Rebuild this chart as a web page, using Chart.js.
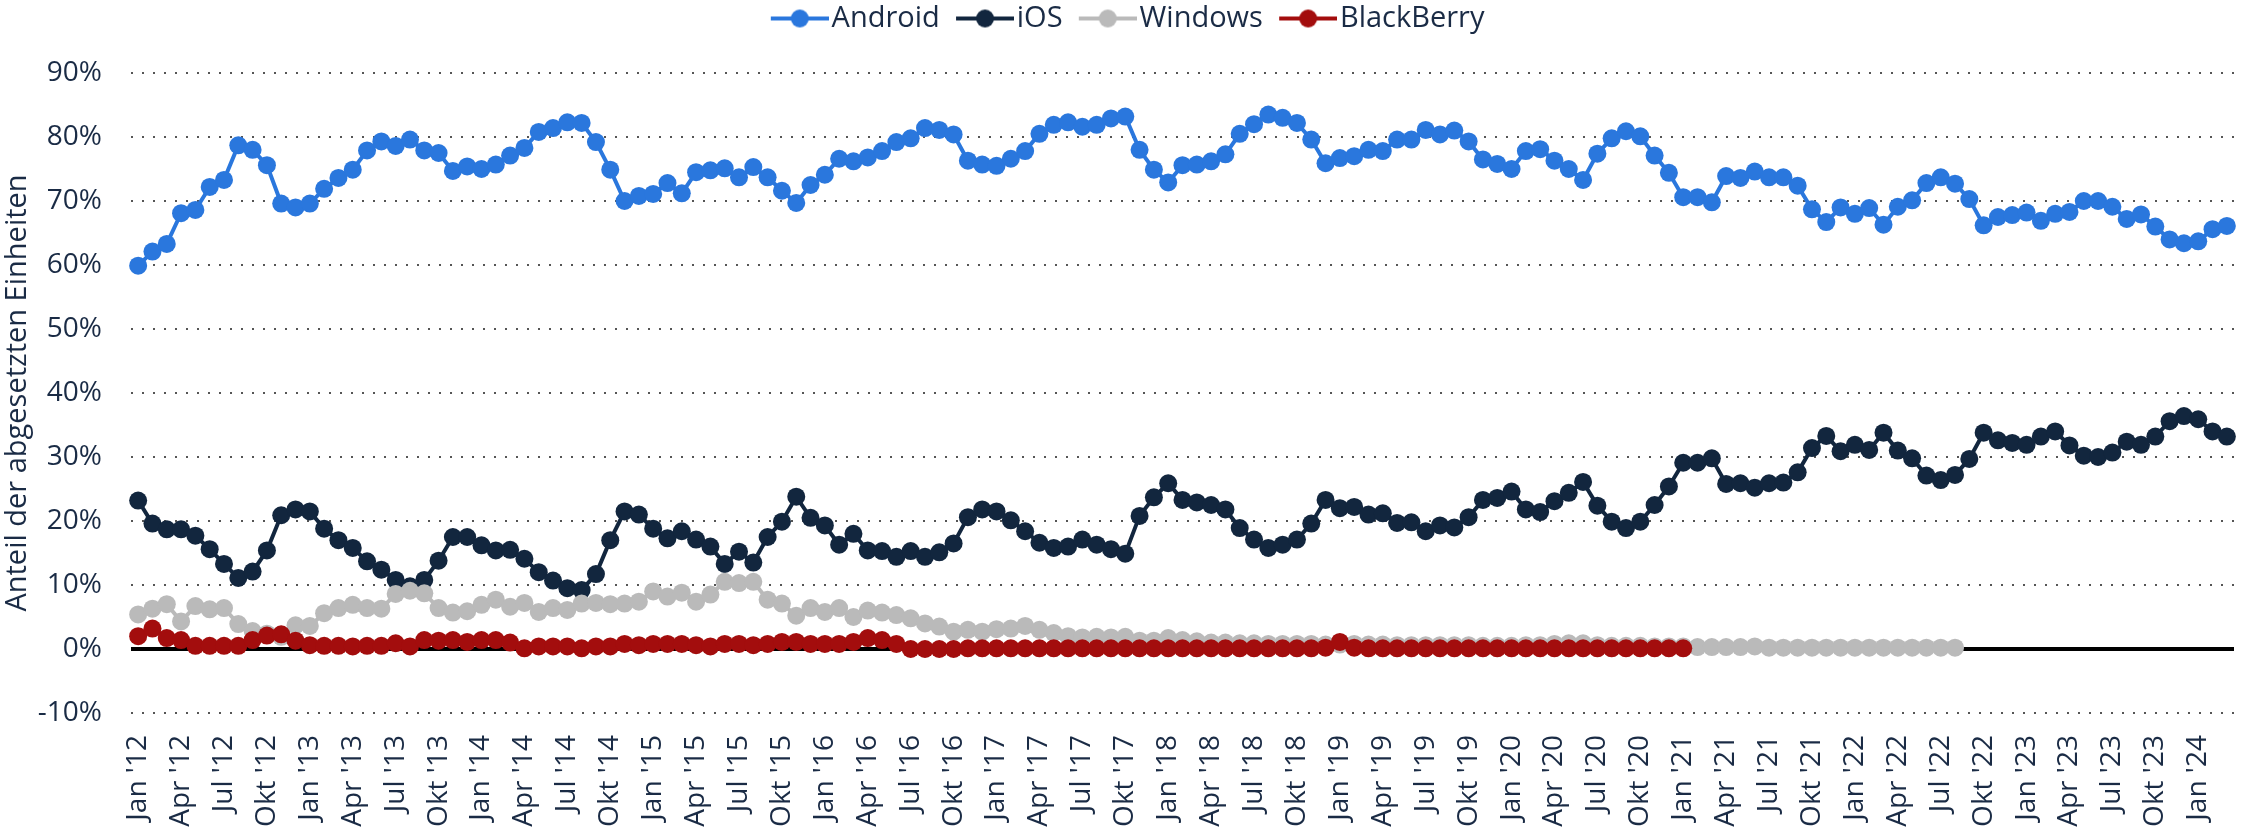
<!DOCTYPE html>
<html><head><meta charset="utf-8">
<script src="https://cdn.jsdelivr.net/npm/chart.js@4.4.1/dist/chart.umd.min.js"></script>
<style>html,body{margin:0;padding:0;background:#fff;}#wrap{width:2243px;height:829px;position:relative;}</style>
</head><body><div id="wrap"><canvas id="c"></canvas></div>
<script>
const categories = [
"Jan '12","Feb '12","Mär '12","Apr '12","Mai '12","Jun '12","Jul '12","Aug '12","Sep '12","Okt '12","Nov '12","Dez '12",
"Jan '13","Feb '13","Mär '13","Apr '13","Mai '13","Jun '13","Jul '13","Aug '13","Sep '13","Okt '13","Nov '13","Dez '13",
"Jan '14","Feb '14","Mär '14","Apr '14","Mai '14","Jun '14","Jul '14","Aug '14","Sep '14","Okt '14","Nov '14","Dez '14",
"Jan '15","Feb '15","Mär '15","Apr '15","Mai '15","Jun '15","Jul '15","Aug '15","Sep '15","Okt '15","Nov '15","Dez '15",
"Jan '16","Feb '16","Mär '16","Apr '16","Mai '16","Jun '16","Jul '16","Aug '16","Sep '16","Okt '16","Nov '16","Dez '16",
"Jan '17","Feb '17","Mär '17","Apr '17","Mai '17","Jun '17","Jul '17","Aug '17","Sep '17","Okt '17","Nov '17","Dez '17",
"Jan '18","Feb '18","Mär '18","Apr '18","Mai '18","Jun '18","Jul '18","Aug '18","Sep '18","Okt '18","Nov '18","Dez '18",
"Jan '19","Feb '19","Mär '19","Apr '19","Mai '19","Jun '19","Jul '19","Aug '19","Sep '19","Okt '19","Nov '19","Dez '19",
"Jan '20","Feb '20","Mär '20","Apr '20","Mai '20","Jun '20","Jul '20","Aug '20","Sep '20","Okt '20","Nov '20","Dez '20",
"Jan '21","Feb '21","Mär '21","Apr '21","Mai '21","Jun '21","Jul '21","Aug '21","Sep '21","Okt '21","Nov '21","Dez '21",
"Jan '22","Feb '22","Mär '22","Apr '22","Mai '22","Jun '22","Jul '22","Aug '22","Sep '22","Okt '22","Nov '22","Dez '22",
"Jan '23","Feb '23","Mär '23","Apr '23","Mai '23","Jun '23","Jul '23","Aug '23","Sep '23","Okt '23","Nov '23","Dez '23",
"Jan '24","Feb '24","Mär '24"
];

const android = [
59.9,62.1,63.3,68.1,68.6,72.2,73.3,78.7,78.0,75.6,
69.6,69.0,69.6,71.9,73.6,74.9,77.9,79.3,78.6,79.6,
77.9,77.5,74.7,75.4,75.0,75.7,77.1,78.3,80.8,81.4,
82.3,82.2,79.2,74.9,70.0,70.8,71.1,72.8,71.2,74.5,
74.8,75.1,73.7,75.3,73.7,71.6,69.7,72.5,74.1,76.6,
76.2,76.8,77.8,79.2,79.8,81.4,81.1,80.4,76.3,75.7,
75.5,76.6,77.8,80.5,81.9,82.3,81.6,81.9,82.9,83.2,
78.0,74.9,72.9,75.6,75.7,76.2,77.3,80.5,82.0,83.5,
83.0,82.2,79.6,75.9,76.7,77.0,78.0,77.8,79.6,79.6,
81.1,80.4,81.0,79.3,76.5,75.8,75.0,77.8,78.1,76.3,
75.0,73.3,77.4,79.8,80.9,80.1,77.1,74.4,70.6,70.6,
69.8,73.9,73.6,74.6,73.7,73.7,72.4,68.7,66.7,69.0,
68.0,68.9,66.3,69.1,70.1,72.8,73.7,72.7,70.3,66.2,
67.5,67.8,68.2,66.9,68.0,68.3,70.0,70.0,69.1,67.2,
67.9,66.0,64.0,63.4,63.7,65.6,66.1
];

const ios = [
23.2,19.6,18.7,18.7,17.7,15.6,13.3,11.1,12.1,15.4,
20.9,21.8,21.5,18.8,17.0,15.8,13.7,12.4,10.8,9.8,
10.8,13.8,17.5,17.5,16.2,15.4,15.5,14.1,12.0,10.7,
9.5,9.2,11.7,17.0,21.5,21.0,18.8,17.3,18.4,17.1,
16.0,13.3,15.2,13.5,17.5,19.9,23.8,20.5,19.3,16.3,
18.0,15.4,15.3,14.4,15.3,14.4,15.1,16.5,20.6,21.8,
21.5,20.1,18.4,16.6,15.8,16.0,17.1,16.3,15.6,14.9,
20.8,23.7,25.9,23.3,22.9,22.5,21.8,18.9,17.1,15.8,
16.3,17.1,19.6,23.3,22.0,22.2,21.0,21.2,19.7,19.8,
18.4,19.3,19.0,20.6,23.3,23.6,24.6,21.8,21.4,23.1,
24.4,26.1,22.4,19.9,18.9,19.9,22.5,25.4,29.1,29.1,
29.8,25.8,25.9,25.2,25.9,26.0,27.6,31.4,33.3,30.9,
31.9,31.1,33.8,31.0,29.8,27.1,26.4,27.2,29.7,33.8,
32.6,32.2,31.9,33.2,34.0,31.8,30.2,30.0,30.7,32.4,
31.9,33.2,35.6,36.4,35.9,34.0,33.2
];

const windows = [
5.4,6.3,7.0,4.3,6.7,6.2,6.4,3.9,2.8,2.4,
1.9,3.7,3.6,5.6,6.4,6.9,6.4,6.3,8.6,9.1,
8.7,6.4,5.7,5.9,6.9,7.7,6.6,7.2,5.8,6.4,
6.1,7.1,7.2,7.0,7.1,7.4,9.0,8.2,8.8,7.4,
8.5,10.5,10.3,10.5,7.7,7.1,5.2,6.4,5.8,6.4,
5.0,6.0,5.7,5.3,4.8,4.0,3.5,2.7,3.0,2.7,
3.1,3.2,3.6,3.0,2.5,2.0,1.8,1.9,1.8,1.9,
1.3,1.3,1.7,1.4,1.2,1.0,1.0,0.9,0.9,0.8,
0.8,0.8,0.8,0.7,0.7,0.8,0.7,0.7,0.6,0.6,
0.6,0.6,0.6,0.6,0.5,0.5,0.5,0.6,0.6,0.8,
0.9,0.9,0.6,0.5,0.5,0.5,0.4,0.4,0.4,0.3,
0.3,0.3,0.3,0.4,0.2,0.2,0.2,0.2,0.2,0.2,
0.2,0.2,0.2,0.2,0.2,0.2,0.2,0.2,
null,null,null,null,null,null,null,null,null,null,
null,null,null,null,null,null,null,null,null
];

const blackberry = [
2.0,3.2,1.7,1.4,0.5,0.5,0.5,0.5,1.4,2.1,
2.3,1.3,0.6,0.5,0.5,0.4,0.5,0.5,0.9,0.4,
1.4,1.3,1.4,1.1,1.4,1.4,1.0,0.1,0.4,0.4,
0.4,0.1,0.4,0.4,0.8,0.6,0.8,0.8,0.8,0.6,
0.4,0.8,0.8,0.6,0.8,1.1,1.1,0.8,0.8,0.8,
1.1,1.7,1.4,0.8,0.0,0.0,0.0,0.0,0.1,0.1,
0.1,0.1,0.1,0.1,0.1,0.1,0.1,0.1,0.1,0.1,
0.1,0.1,0.1,0.1,0.1,0.1,0.1,0.1,0.1,0.1,
0.1,0.1,0.1,0.2,1.1,0.2,0.1,0.1,0.1,0.1,
0.1,0.1,0.1,0.1,0.1,0.1,0.1,0.1,0.1,0.1,
0.1,0.1,0.1,0.1,0.1,0.1,0.1,0.1,0.1,
null,null,null,null,null,null,null,null,null,null,
null,null,null,null,null,null,null,null,null,null,
null,null,null,null,null,null,null,null,null,null,
null,null,null,null,null,null,null,null
];

const seriesNames = ["Android", "iOS", "Windows", "BlackBerry"];
const seriesColors = ["#2a77dd", "#12263e", "#bababa", "#a30d0d"];
const seriesData = [android, ios, windows, blackberry];
const yMin = -10, yMax = 90, yStep = 10;
const yTitle = "Anteil der abgesetzten Einheiten";
const textColor = "#1a2b45";

Chart.defaults.font.family = "'Open Sans', 'Noto Sans', sans-serif";

function legendIcon(color) {
  const c = document.createElement('canvas');
  c.width = 82; c.height = 20;
  const g = c.getContext('2d');
  g.strokeStyle = color; g.lineWidth = 4;
  g.beginPath(); g.moveTo(24, 10); g.lineTo(82, 10); g.stroke();
  g.fillStyle = color; g.beginPath(); g.arc(53, 10, 9, 0, Math.PI * 2); g.fill();
  return c;
}
const legendIcons = seriesColors.map(legendIcon);

const datasets = seriesNames.map((name, i) => ({
  label: name,
  data: seriesData[i],
  borderColor: seriesColors[i],
  backgroundColor: seriesColors[i],
  pointBackgroundColor: seriesColors[i],
  pointBorderWidth: 0,
  pointRadius: 9,
  pointHoverRadius: 9,
  borderWidth: 4,
  tension: 0,
  fill: false,
  clip: false,
  order: seriesNames.length - i
}));

const legendHeightPlugin = {
  id: 'legendHeight',
  beforeInit(chart) {
    const orig = chart.legend.fit;
    chart.legend.fit = function () { orig.call(this); this.height = 73; };
  }
};

new Chart(document.getElementById('c'), {
  type: 'line',
  data: { labels: categories, datasets },
  plugins: [legendHeightPlugin],
  options: {
    responsive: true,
    maintainAspectRatio: false,
    animation: false,
    devicePixelRatio: 1,
    events: [],
    layout: { padding: 0 },
    plugins: {
      tooltip: { enabled: false },
      legend: {
        position: 'top',
        align: 'center',
        labels: {
          usePointStyle: true,
          pointStyleWidth: 58.5,
          padding: 4,
          color: textColor,
          font: { size: 29 },
          sort: (a, b) => a.datasetIndex - b.datasetIndex,
          generateLabels(chart) {
            const items = Chart.defaults.plugins.legend.labels.generateLabels(chart);
            items.forEach((it) => { it.pointStyle = legendIcons[it.datasetIndex]; });
            return items;
          }
        }
      }
    },
    scales: {
      x: {
        offset: true,
        grid: { display: false, drawTicks: false },
        border: { display: false },
        ticks: {
          autoSkip: false,
          maxRotation: 90,
          minRotation: 90,
          padding: 22,
          color: textColor,
          font: { size: 28 },
          callback(val, idx) { return idx % 3 === 0 ? this.getLabelForValue(val) : ''; }
        },
        afterFit(scale) { scale.height = 116; scale.paddingLeft = 0; scale.paddingRight = 0; }
      },
      y: {
        min: yMin,
        max: yMax,
        ticks: {
          stepSize: yStep,
          padding: 29,
          color: textColor,
          font: { size: 28 },
          callback: (v) => v + '%'
        },
        grid: {
          drawTicks: false,
          color: (ctx) => ctx.tick && ctx.tick.value === 0 ? '#000000' : '#555555',
          lineWidth: (ctx) => ctx.tick && ctx.tick.value === 0 ? 4 : 2
        },
        border: {
          display: false,
          dash: (ctx) => ctx.tick && ctx.tick.value === 0 ? [] : [2, 9]
        },
        title: {
          display: true,
          text: yTitle,
          color: textColor,
          font: { size: 29 },
          padding: { top: 0, bottom: 0 }
        },
        afterFit(scale) { scale.width = 131; }
      }
    }
  }
});
</script>
</body></html>
